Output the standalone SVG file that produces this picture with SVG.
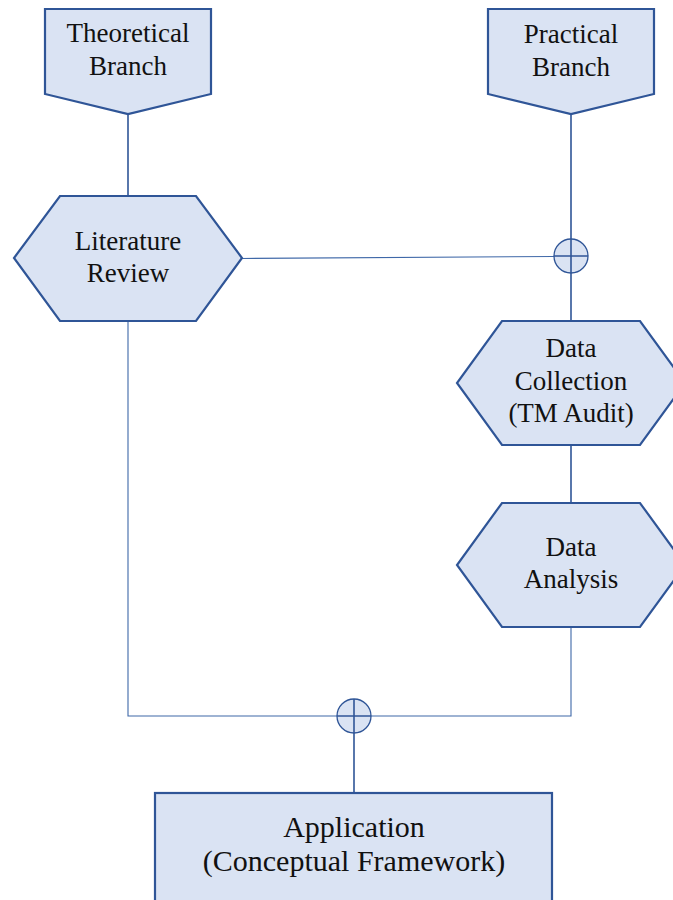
<svg xmlns="http://www.w3.org/2000/svg" width="673" height="900" viewBox="0 0 673 900">
  <style>
    .shape { fill: #dae3f3; stroke: #2f5597; stroke-width: 2.2; stroke-linejoin: miter; }
    .junction { fill: #dae3f3; stroke: #2f5597; stroke-width: 1.3; }
    .link { fill: none; stroke: #2f5597; stroke-width: 1.6; }
    .thin { fill: none; stroke: #3f68a8; stroke-width: 1.1; }
    text { font-family: "Liberation Serif", "DejaVu Serif", serif; fill: #111; text-anchor: middle; font-size: 27px; }
    .big { font-size: 30px; }
  </style>

  <!-- connectors -->
  <g id="connectors">
    <line class="link" x1="128" y1="114" x2="128" y2="196"/>
    <line class="link" x1="571" y1="114" x2="571" y2="321"/>
    <line class="thin" x1="242" y1="258.5" x2="554" y2="256.5"/>
    <line class="link" x1="571" y1="445" x2="571" y2="503"/>
    <polyline class="thin" points="128,321 128,716 337,716"/>
    <polyline class="thin" points="571,627 571,716 371,716"/>
    <line class="link" x1="354" y1="733" x2="354" y2="793"/>
  </g>

  <!-- junction symbols -->
  <g id="junction-top">
    <circle class="junction" cx="571" cy="256" r="17"/>
    <line class="link" x1="554" y1="256" x2="588" y2="256"/>
    <line class="link" x1="571" y1="239" x2="571" y2="273"/>
  </g>
  <g id="junction-bottom">
    <circle class="junction" cx="354" cy="716" r="17"/>
    <line class="link" x1="337" y1="716" x2="371" y2="716"/>
    <line class="link" x1="354" y1="699" x2="354" y2="733"/>
  </g>

  <g id="theoretical-branch">
    <polygon class="shape" points="45,9 211,9 211,94 128,114 45,94"/>
    <text x="128" y="42">Theoretical</text>
    <text x="128" y="75">Branch</text>
  </g>

  <g id="practical-branch">
    <polygon class="shape" points="488,9 654,9 654,94 571,114 488,94"/>
    <text x="571" y="43">Practical</text>
    <text x="571" y="76">Branch</text>
  </g>

  <g id="literature-review">
    <polygon class="shape" points="60,196 196,196 242,258 196,321 60,321 14,258"/>
    <text x="128" y="250">Literature</text>
    <text x="128" y="282">Review</text>
  </g>

  <g id="data-collection">
    <polygon class="shape" points="502,321 640,321 685,383 640,445 502,445 457,383"/>
    <text x="571" y="357">Data</text>
    <text x="571" y="390">Collection</text>
    <text x="571" y="422">(TM Audit)</text>
  </g>

  <g id="data-analysis">
    <polygon class="shape" points="502,503 640,503 685,565 640,627 502,627 457,565"/>
    <text x="571" y="556">Data</text>
    <text x="571" y="588">Analysis</text>
  </g>

  <g id="application">
    <rect class="shape" x="155" y="793" width="397" height="130"/>
    <text class="big" x="354" y="837">Application</text>
    <text class="big" x="354" y="871">(Conceptual Framework)</text>
  </g>
</svg>
